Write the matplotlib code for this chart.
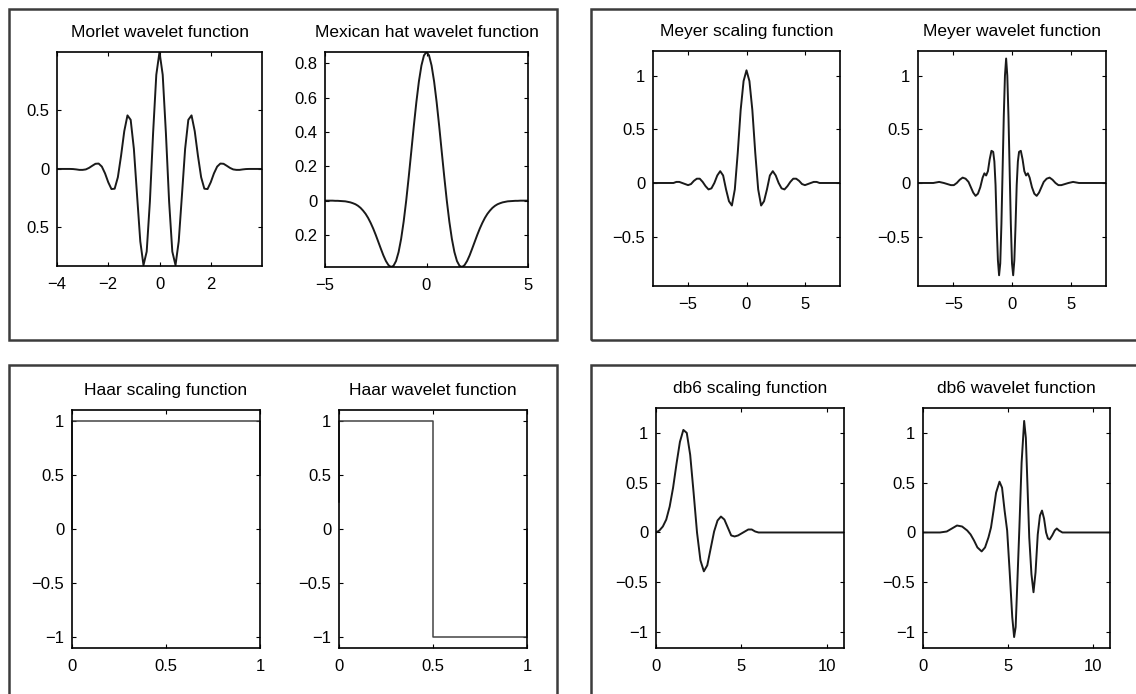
import numpy as np
import matplotlib
matplotlib.use("Agg")
import matplotlib.pyplot as plt
from matplotlib.patches import Rectangle

plt.rcParams['font.family'] = ['Liberation Sans', 'DejaVu Sans']

W, H = 1136, 694

# values
morlet_x = np.linspace(-4, 4, 65)
morlet_y = [0, 0, 0, 0, 0, -0.001, -0.004, -0.008, -0.008, -0.004, 0.009, 0.027, 0.044,
            0.046, 0.020, -0.038, -0.114, -0.172, -0.169, -0.071, 0.113, 0.323, 0.458,
            0.420, 0.172, -0.227, -0.619, -0.823, -0.707, -0.279, 0.306, 0.805, 1.000,
            0.805, 0.306, -0.279, -0.707, -0.823, -0.619, -0.227, 0.172, 0.420, 0.458,
            0.323, 0.113, -0.071, -0.169, -0.172, -0.114, -0.038, 0.020, 0.046, 0.044,
            0.027, 0.009, -0.004, -0.008, -0.008, -0.004, -0.001, 0, 0, 0, 0, 0]

mexhat_x = np.linspace(-5, 5, 81)
mexhat_y = [0, 0, 0, 0, -0.001, -0.001, -0.002, -0.003, -0.004, -0.007, -0.010, -0.015,
            -0.021, -0.030, -0.042, -0.058, -0.077, -0.101, -0.130, -0.163, -0.200,
            -0.240, -0.280, -0.319, -0.352, -0.376, -0.387, -0.380, -0.352, -0.300,
            -0.223, -0.122, 0.000, 0.139, 0.286, 0.435, 0.574, 0.695, 0.788, 0.847,
            0.867,
            0.847, 0.788, 0.695, 0.574, 0.435, 0.286, 0.139, 0.000, -0.122, -0.223,
            -0.300, -0.352, -0.380, -0.387, -0.376, -0.352, -0.319, -0.280, -0.240,
            -0.200, -0.163, -0.130, -0.101, -0.077, -0.058, -0.042, -0.030, -0.021,
            -0.015, -0.010, -0.007, -0.004, -0.003, -0.002, -0.001, -0.001, 0, 0, 0, 0]

meyer_phi_x = np.linspace(-8, 8, 65)
meyer_phi_y = [0, 0, 0, 0, 0, 0, 0, 0.00, 0.01, 0.01, 0.00, -0.01, -0.02, -0.01, 0.02,
               0.04, 0.04, 0.01, -0.03, -0.06, -0.05, 0.00, 0.07, 0.11, 0.07, -0.06,
               -0.17, -0.21, -0.06, 0.28, 0.68, 0.95, 1.05,
               0.95, 0.68, 0.28, -0.06, -0.21, -0.17, -0.06, 0.07, 0.11, 0.07, 0.00,
               -0.05, -0.06, -0.03, 0.01, 0.04, 0.04, 0.02, -0.01, -0.02, -0.01, 0.00,
               0.01, 0.01, 0.00, 0, 0, 0, 0, 0, 0, 0]

meyer_psi_x = [-8.0, -6.7, -6.2, -5.8, -5.5, -5.2, -4.95, -4.7, -4.45, -4.2, -3.95, -3.7,
               -3.5, -3.3, -3.1, -2.9, -2.7, -2.5, -2.35, -2.2, -2.05, -1.9, -1.75, -1.6,
               -1.5, -1.4, -1.3, -1.2, -1.1, -1.0, -0.9, -0.8, -0.7, -0.6, -0.5,
               -0.4, -0.3, -0.2, -0.1, 0.0, 0.1, 0.2, 0.3, 0.4, 0.5, 0.6, 0.75, 0.9, 1.05,
               1.2, 1.35, 1.5, 1.7, 1.9, 2.1, 2.3, 2.5, 2.7, 2.95, 3.2, 3.45, 3.7, 3.95,
               4.2, 4.5, 4.8, 5.2, 5.7, 7.0, 8.0]
meyer_psi_y = [0.00, 0.00, 0.01, 0.00, -0.01, -0.02, -0.02, 0.00, 0.03, 0.05, 0.04, 0.01,
               -0.04, -0.09, -0.12, -0.10, -0.04, 0.05, 0.09, 0.07, 0.11, 0.22, 0.30, 0.29,
               0.20, -0.02, -0.40, -0.72, -0.86, -0.75, -0.38, 0.12, 0.62, 1.00, 1.16,
               1.00, 0.62, 0.12, -0.38, -0.75, -0.86, -0.72, -0.40, -0.02, 0.20, 0.29,
               0.30, 0.22, 0.11, 0.07, 0.09, 0.05, -0.04, -0.10, -0.12, -0.09, -0.04, 0.01,
               0.04, 0.05, 0.03, 0.00, -0.02, -0.02, -0.01, 0.00, 0.01, 0.00, 0.00, 0.00]

haar_phi_x = [0, 0, 1, 1]
haar_phi_y = [0, 1, 1, 0.5]
haar_psi_x = [0, 0, 0.5, 0.5, 1, 1]
haar_psi_y = [0.25, 1, 1, -1, -1, 0]

db6_phi_x = [0, 0.2, 0.4, 0.6, 0.8, 1.0, 1.2, 1.4, 1.6, 1.8, 2.0, 2.2, 2.4, 2.6, 2.8, 3.0,
             3.2, 3.4, 3.6, 3.8, 4.0, 4.2, 4.4, 4.6, 4.8, 5.0, 5.2, 5.4, 5.6, 5.8, 6.0, 11]
db6_phi_y = [0.00, 0.02, 0.06, 0.13, 0.26, 0.45, 0.69, 0.91, 1.03, 1.00, 0.78, 0.40, 0.00,
             -0.28, -0.39, -0.33, -0.16, 0.01, 0.12, 0.16, 0.13, 0.05, -0.03, -0.04, -0.03,
             -0.01, 0.01, 0.03, 0.03, 0.01, 0.00, 0.00]

db6_psi_x = [0, 1.0, 1.4, 1.7, 2.0, 2.3, 2.6, 2.8, 3.0, 3.2, 3.45, 3.65, 3.85, 4.0, 4.15,
             4.3, 4.5, 4.65, 4.8, 4.95, 5.1, 5.25, 5.36, 5.45, 5.55, 5.67, 5.8, 5.95, 6.05,
             6.15, 6.25, 6.38, 6.5, 6.62, 6.75, 6.88, 7.0, 7.12, 7.24, 7.35, 7.45, 7.6,
             7.75, 7.87, 8.0, 8.2, 11]
db6_psi_y = [0, 0.0, 0.01, 0.04, 0.07, 0.06, 0.02, -0.02, -0.08, -0.15, -0.19, -0.15, -0.05,
             0.05, 0.22, 0.40, 0.51, 0.45, 0.22, 0.02, -0.40, -0.85, -1.05, -0.95, -0.50,
             0.05, 0.70, 1.12, 0.95, 0.45, -0.05, -0.42, -0.60, -0.40, -0.02, 0.17, 0.22,
             0.14, 0.0, -0.06, -0.07, -0.03, 0.02, 0.04, 0.02, 0.0, 0.0]

titles = ["Morlet wavelet function", "Mexican hat wavelet function",
          "Meyer scaling function", "Meyer wavelet function",
          "Haar scaling function", "Haar wavelet function",
          "db6 scaling function", "db6 wavelet function"]
curves = [(morlet_x, morlet_y), (mexhat_x, mexhat_y),
          (meyer_phi_x, meyer_phi_y), (meyer_psi_x, meyer_psi_y),
          (haar_phi_x, haar_phi_y), (haar_psi_x, haar_psi_y),
          (db6_phi_x, db6_phi_y), (db6_psi_x, db6_psi_y)]
xlims = [(-4, 4), (-5, 5), (-8, 8), (-8, 8), (0, 1), (0, 1), (0, 11), (0, 11)]
ylims = [(-0.83, 1.0), (-0.387, 0.867), (-0.96, 1.23), (-0.96, 1.23),
         (-1.1, 1.1), (-1.1, 1.1), (-1.16, 1.25), (-1.16, 1.25)]
xticks = [[-4, -2, 0, 2], [-5, 0, 5], [-5, 0, 5], [-5, 0, 5],
          [0, 0.5, 1], [0, 0.5, 1], [0, 5, 10], [0, 5, 10]]
xticklabels = [["\u22124", "\u22122", "0", "2"], ["\u22125", "0", "5"],
               ["\u22125", "0", "5"], ["\u22125", "0", "5"],
               ["0", "0.5", "1"], ["0", "0.5", "1"], ["0", "5", "10"], ["0", "5", "10"]]
yticks = [[-0.5, 0, 0.5], [-0.2, 0, 0.2, 0.4, 0.6, 0.8],
          [-0.5, 0, 0.5, 1], [-0.5, 0, 0.5, 1],
          [-1, -0.5, 0, 0.5, 1], [-1, -0.5, 0, 0.5, 1],
          [-1, -0.5, 0, 0.5, 1], [-1, -0.5, 0, 0.5, 1]]
yticklabels = [["0.5", "0", "0.5"], ["0.2", "0", "0.2", "0.4", "0.6", "0.8"],
               ["\u22120.5", "0", "0.5", "1"], ["\u22120.5", "0", "0.5", "1"],
               ["\u22121", "\u22120.5", "0", "0.5", "1"], ["\u22121", "\u22120.5", "0", "0.5", "1"],
               ["\u22121", "\u22120.5", "0", "0.5", "1"], ["\u22121", "\u22120.5", "0", "0.5", "1"]]

# axes position in pixels: left, right, top, bottom
axes_px = [(57, 262, 52, 266), (325, 528, 52, 267),
           (653, 840, 51, 286), (918, 1106, 51, 286),
           (72, 260, 410, 648), (339, 527, 410, 648),
           (656, 844, 408, 648), (923, 1110, 408, 648)]

# panel frames in pixels: left, right, top, bottom
boxes_px = [(9, 557, 9, 340), (591, 1145, 9, 340),
            (9, 557, 365, 705), (591, 1145, 365, 705)]

fig = plt.figure(figsize=(W / 100, H / 100), dpi=100)

for l, r, t, b in boxes_px:
    fig.patches.append(Rectangle((l / W, 1 - b / H), (r - l) / W, (b - t) / H,
                                 transform=fig.transFigure, fill=False,
                                 ec="#3c3c3c", lw=1.8))

for i in range(8):
    l, r, t, b = axes_px[i]
    ax = fig.add_axes([l / W, 1 - b / H, (r - l) / W, (b - t) / H])
    x, y = curves[i]
    if i in (4, 5):
        ax.plot(x, y, color="#444444", lw=1.1, clip_on=False)
    else:
        ax.plot(x, y, color="#1a1a1a", lw=1.4)
    ax.set_xlim(xlims[i])
    ax.set_ylim(ylims[i])
    ax.set_xticks(xticks[i])
    ax.set_xticklabels(xticklabels[i])
    ax.set_yticks(yticks[i])
    ax.set_yticklabels(yticklabels[i])
    ax.tick_params(direction="in", top=True, right=True, length=3, width=0.8,
                   labelsize=12, colors="black")
    ax.tick_params(axis="x", pad=8)
    ax.tick_params(axis="y", pad=5.5)
    for s in ax.spines.values():
        s.set_linewidth(1.2)
    ax.set_title(titles[i], fontsize=12.5, pad=11)

fig.savefig("out.png", dpi=100)
